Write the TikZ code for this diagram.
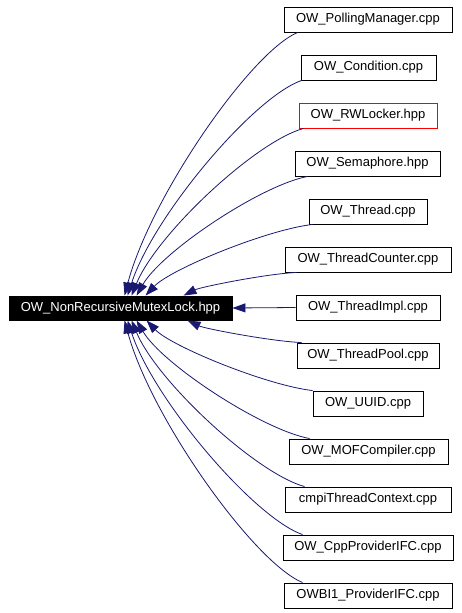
\documentclass[tikz,border=0pt]{standalone}
\usepackage{fontspec}
\setmainfont{Liberation Sans}
\usetikzlibrary{arrows.meta,calc}
\definecolor{edgeblue}{HTML}{191970}
\begin{document}
\begin{tikzpicture}[x=1pt,y=-1pt,
  box/.style={draw=black,line width=0.9pt,minimum height=25pt,inner sep=0pt,font=\fontsize{13}{15}\selectfont},
  link/.style={draw=edgeblue,line width=0.8pt,-{Triangle[length=13pt,width=9pt]}}]
\useasboundingbox (0,0) rectangle (461,613);
\fill[white] (0,0) rectangle (461,613);
\node[box,fill=black,text=white,minimum width=223pt,minimum height=24pt] (main) at (120.5,308) {OW\_NonRecursiveMutexLock.hpp};
\node[box,minimum width=168pt] (n1) at (368,19.5) {OW\_PollingManager.cpp};
\node[box,minimum width=135pt] (n2) at (368.5,67.5) {OW\_Condition.cpp};
\node[box,draw=red,minimum width=138pt] (n3) at (368,115.5) {OW\_RWLocker.hpp};
\node[box,minimum width=145pt] (n4) at (367.5,163.5) {OW\_Semaphore.hpp};
\node[box,minimum width=118pt] (n5) at (368,211.5) {OW\_Thread.cpp};
\node[box,minimum width=166pt] (n6) at (368,259.5) {OW\_ThreadCounter.cpp};
\node[box,minimum width=144pt] (n7) at (368,307.5) {OW\_ThreadImpl.cpp};
\node[box,minimum width=142pt] (n8) at (368,355.5) {OW\_ThreadPool.cpp};
\node[box,minimum width=110pt] (n9) at (368,403.5) {OW\_UUID.cpp};
\node[box,minimum width=159pt] (n10) at (368.5,451.5) {OW\_MOFCompiler.cpp};
\node[box,minimum width=166pt] (n11) at (368,499.5) {cmpiThreadContext.cpp};
\node[box,minimum width=170pt] (n12) at (368,547.5) {OW\_CppProviderIFC.cpp};
\node[box,minimum width=168pt] (n13) at (368,595.5) {OWBI1\_ProviderIFC.cpp};
% upper edges
\draw[link] ($(n1.south west)+(14,0)$) .. controls (249.6,53.1) and (150.1,198.3) .. ($(main.north west)+(116,0)$);
\draw[link] ($(n2.south west)+(1,0)$) .. controls (253.3,97.3) and (153.2,216.1) .. ($(main.north west)+(119,0)$);
\draw[link] ($(n3.south west)+(5,0)$) .. controls (255.8,141.4) and (156.9,233.8) .. ($(main.north west)+(123,0)$);
\draw[link] ($(n4.south west)+(13,0)$) .. controls (260.1,185.6) and (161.8,251.6) .. ($(main.north west)+(128,0)$);
\draw[link] ($(n5.south west)+(4,0)$) .. controls (266.2,229.8) and (170.2,269.4) .. ($(main.north west)+(137,0)$);
\draw[link] ($(n6.south west)+(12,0)$) .. controls (265.4,273.9) and (200.4,287.1) .. ($(main.north west)+(175,0)$);
% straight edge
\draw[link] (n7.west) -- (main.east);
% lower edges
\draw[link] ($(n8.north west)+(5,0)$) .. controls (270.1,341.2) and (204.5,328.5) .. ($(main.south west)+(179,0)$);
\draw[link] ($(n9.north west)+(0,0)$) .. controls (266.5,385.3) and (171.1,346.3) .. ($(main.south west)+(138,0)$);
\draw[link] ($(n10.north west)+(21,0)$) .. controls (261.6,429.5) and (162.1,364) .. ($(main.south west)+(128,0)$);
\draw[link] ($(n11.north west)+(20,0)$) .. controls (256.6,473.6) and (157.1,381.8) .. ($(main.south west)+(123,0)$);
\draw[link] ($(n12.north west)+(20,0)$) .. controls (254,517.8) and (153.4,399.6) .. ($(main.south west)+(119,0)$);
\draw[link] ($(n13.north west)+(19,0)$) .. controls (253.2,562) and (150.8,417.3) .. ($(main.south west)+(116,0)$);
\end{tikzpicture}
\end{document}
